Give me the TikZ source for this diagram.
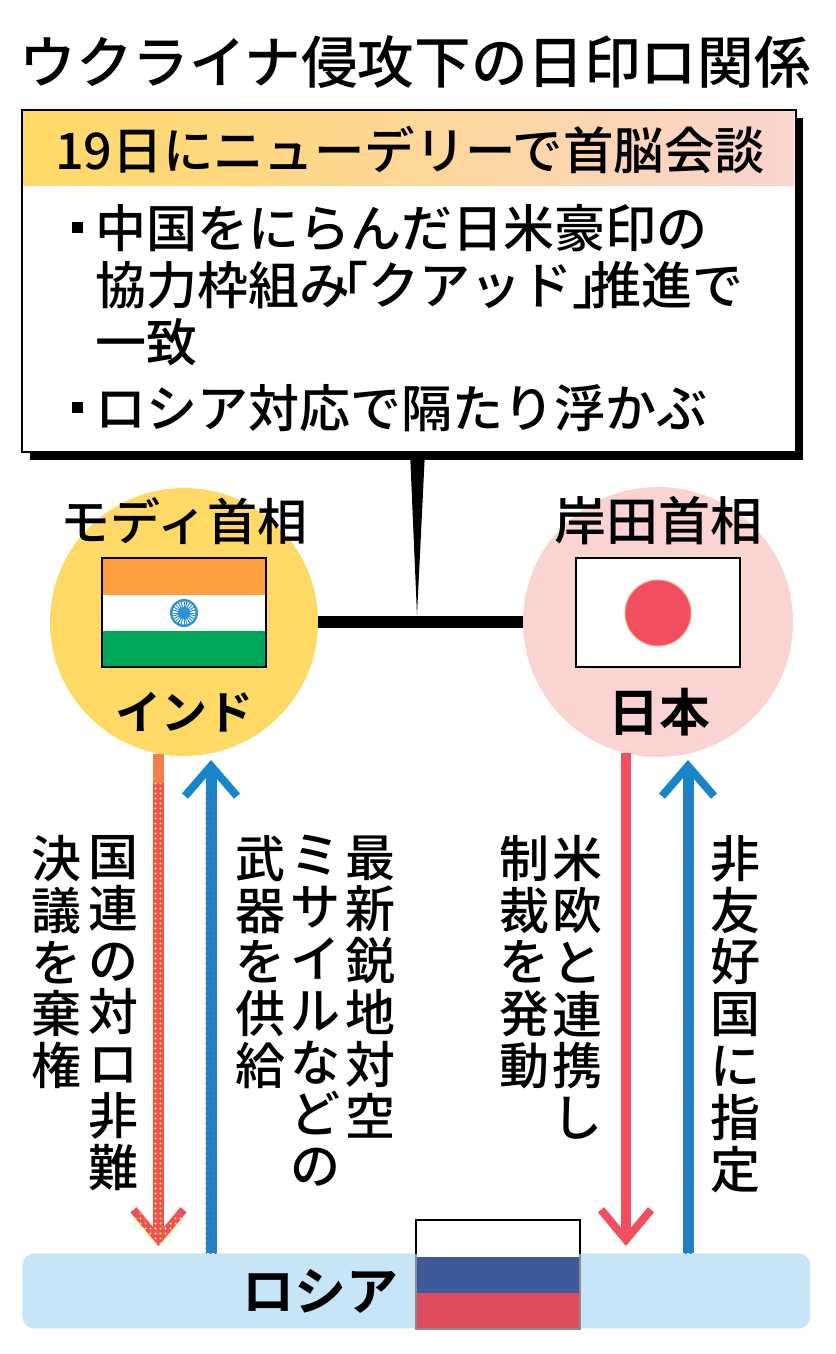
\documentclass[tikz,border=0pt]{standalone}
\usepackage{fontspec}
\setmainfont{Noto Sans CJK JP Medium}
\newfontfamily\jpt{Noto Sans CJK JP Medium}
\newfontfamily\jpb{Noto Sans CJK JP Bold}
\usetikzlibrary{arrows.meta,calc,patterns}
\pgfdeclarepatternformonly{halftone}{\pgfqpoint{-1pt}{-1pt}}{\pgfqpoint{1.5pt}{1.5pt}}{\pgfqpoint{2.5pt}{2.5pt}}{%
  \pgfpathcircle{\pgfqpoint{0.25pt}{0.25pt}}{0.62pt}\pgfusepath{fill}}
\definecolor{yel}{HTML}{FFD966}
\definecolor{pnk}{HTML}{FAD4D0}
\definecolor{orn}{HTML}{F37F4F}
\definecolor{blu}{HTML}{1686C8}
\definecolor{rd}{HTML}{F14E5F}
\definecolor{skyb}{HTML}{C6E6F8}
\definecolor{pur}{HTML}{7A4FA8}
\definecolor{flago}{HTML}{FF9E40}
\definecolor{flagg}{HTML}{00A85A}
\definecolor{rusb}{HTML}{3F5A9B}
\definecolor{rusr}{HTML}{E14B5E}
\newcommand{\fs}[1]{\fontsize{#1}{#1}\selectfont}
\tikzset{
  x=0.5pt,y=-0.5pt,
  nat/.style={circle,inner sep=0pt,minimum size=134pt},
  lbl/.style={inner sep=0pt,anchor=west,font=\fs{25.5}},
  head/.style={inner sep=0pt,font=\fs{25.2}},
  boldlbl/.style={inner sep=0pt,font=\fs{25.5}\jpb},
  vert/.style={inner sep=0pt,anchor=north,align=center,font=\fontsize{25}{25.9}\selectfont},
  flag/.style={draw=black,line width=0.8pt},
  down/.style={line width=5.2pt,-{Straight Barb[length=15pt,width=25pt,line width=4pt]}},
  up/.style={line width=5.5pt,-{Straight Barb[length=15pt,width=26pt,line width=4pt]}},
  dotsy/.style={pattern=halftone,pattern color=yellow},
  dotsp/.style={pattern=halftone,pattern color=pur},
}
\begin{document}
\begin{tikzpicture}
\useasboundingbox (0,0) rectangle (835,1354);
% title
\node[inner sep=0pt,anchor=west,font=\fs{28.3}\jpt] (title) at (19,62) {ウクライナ侵攻下の日印ロ関係};
% box
\fill[black] (30,118) rectangle (803,460);
\node[fill=white,inner sep=0pt,minimum width=386.5pt,minimum height=170.5pt,anchor=north west] (box) at (22,110) {};
\shade[left color=yel,right color=pnk,middle color=yel!55!pnk] (23,111) rectangle (794,185);
\draw[black,line width=1pt] (box.north west) rectangle (box.south east);
\node[head] (hd) at (410,150) {19日にニューデリーで首脳会談};
\fill[black] (72,222) rectangle (83,233);
\node[lbl] (l1) at (95,228) {中国をにらんだ日米豪印の};
\node[lbl] (l2) at (95,285) {協力枠組み\kern-.65em「クアッド」\kern-.65em推進で};
\node[lbl] (l3) at (95,342) {一致};
\fill[black] (72,402) rectangle (83,413);
\node[lbl] (l4) at (95,408) {ロシア対応で隔たり浮かぶ};
% circles
\node[nat,fill=yel] (ind) at (184,622) {};
\node[nat,fill=pnk,minimum size=135pt] (jpn) at (658,622) {};
\draw[line width=6pt] (ind) -- (jpn);
\coordinate (tip) at (417,615);
\fill[black] (box.south -| 410,0) -- (box.south -| 425,0) -- (tip) -- cycle;
\node[inner sep=0pt,font=\fs{25}] (modi) at (184,521) {モディ首相};
\node[inner sep=0pt,font=\fs{26}] (kishida) at (658,521) {岸田首相};
\node[boldlbl,font=\fs{23}\jpb] (indt) at (184,712) {インド};
\node[boldlbl] (jpnt) at (659,712) {日本};
% India flag
\fill[white] (102,558) rectangle (266,667);
\fill[flago] (102,558) rectangle (266,595);
\fill[flagg] (102,631) rectangle (266,667);
\draw[flag] (102,558) rectangle (266,667);
\fill[blu!90] (184,613) circle (14);
\fill[white] (184,613) circle (11.5);
\foreach \a in {0,15,...,345} \draw[blu!90,line width=0.5pt] (184,613) -- ++(\a:11.5);
\fill[blu!90] (184,613) circle (6);
% Japan flag
\fill[white] (576,558) rectangle (740,667);
\draw[flag] (576,558) rectangle (740,667);
\fill[rd,draw=orn!70,line width=0.5pt] (658,613) circle (33);
% Russia
\node[fill=skyb,rounded corners=6pt,inner sep=0pt,minimum width=394pt,minimum height=37.5pt,anchor=north west] (rus) at (22,1253) {};
\fill[white] (416,1220) rectangle (580,1257);
\fill[rusb] (416,1257) rectangle (580,1293);
\fill[rusr] (416,1293) rectangle (580,1329);
\draw[black,line width=0.8pt] (416,1254) -- (416,1220) -- (580,1220) -- (580,1254);
\draw[black!45,line width=0.8pt] (416,1254) -- (416,1329) -- (580,1329) -- (580,1254);
\node[boldlbl,font=\fs{26}\jpb] (rust) at (320,1291) {ロシア};
% arrows
\coordinate (t1) at (158.5,1246);
\coordinate (t2) at (211,760);
\coordinate (t3) at (626,1246);
\coordinate (t4) at (688,760);
\draw[down,rd] (ind.-101 -| t1) -- (t1);
\draw[line width=5.2pt,orn] (ind.-101 -| t1) -- (158.5,783);
\fill[dotsy] (153.5,783) -- (163.5,783) -- (163.5,1228) -- (178,1212) -- (186,1220) -- (158.5,1247) -- (131,1220) -- (139,1212) -- (153.5,1228) -- cycle;
\draw[up,blu] (rus.north -| t2) -- (t2);
\fill[dotsp] (205.5,790) rectangle (216.5,1253);
\draw[down,rd] (jpn.-104 -| t3) -- (t3);
\draw[up,blu] (rus.north -| t4) -- (t4);
\fill[dotsp] (682.5,790) rectangle (693.5,1253);
% vertical labels
\node[vert] (v1) at (113,835) {国\\連\\の\\対\\ロ\\非\\難};
\node[vert] (v2) at (57,835) {決\\議\\を\\棄\\権};
\node[vert] (v3) at (370,835) {最\\新\\鋭\\地\\対\\空};
\node[vert] (v4) at (315,835) {ミ\\サ\\イ\\ル\\な\\ど\\の};
\node[vert] (v5) at (260,835) {武\\器\\を\\供\\給};
\node[vert] (v6) at (577,835) {米\\欧\\と\\連\\携\\し};
\node[vert] (v7) at (524,835) {制\\裁\\を\\発\\動};
\node[vert] (v8) at (735,835) {非\\友\\好\\国\\に\\指\\定};
\end{tikzpicture}
\end{document}
